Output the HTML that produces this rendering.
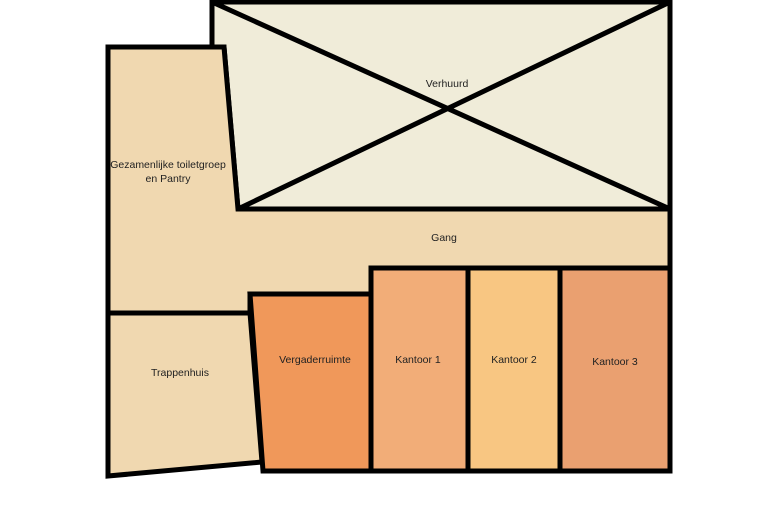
<!DOCTYPE html>
<html><head><style>body{margin:0;background:#fff}svg{display:block}text{font-family:"Liberation Sans",sans-serif;font-size:10.5px;fill:#222;text-anchor:middle}</style></head>
<body>
<svg width="780" height="520" viewBox="0 0 780 520">
<g stroke="#000" stroke-width="5" stroke-linejoin="miter">
<polygon points="212,2 670,2 670,209 238,209 224,47 212,47" fill="#f0ecd9"/>
<line x1="212" y1="2" x2="670" y2="209"/>
<line x1="670" y1="2" x2="238" y2="209"/>
<polygon points="108,47 224,47 238,209 670,209 670,268 371,268 371,294 250,294 250,313 108,313" fill="#f0d8b0"/>
<polygon points="108,313 250,313 262,462 108,476" fill="#f0d8b0"/>
<polygon points="250,294 371,294 371,471 263,471" fill="#f0985a"/>
<rect x="371" y="268" width="97" height="203" fill="#f2ad78"/>
<rect x="468" y="268" width="92" height="203" fill="#f8c682"/>
<rect x="560" y="268" width="110" height="203" fill="#eaa070"/>
</g>
<text x="168" y="168">Gezamenlijke toiletgroep</text>
<text x="168" y="182">en Pantry</text>
<text x="447" y="87">Verhuurd</text>
<text x="444" y="241">Gang</text>
<text x="180" y="376">Trappenhuis</text>
<text x="315" y="363">Vergaderruimte</text>
<text x="418" y="363">Kantoor 1</text>
<text x="514" y="363">Kantoor 2</text>
<text x="615" y="365">Kantoor 3</text>
</svg>
</body></html>
